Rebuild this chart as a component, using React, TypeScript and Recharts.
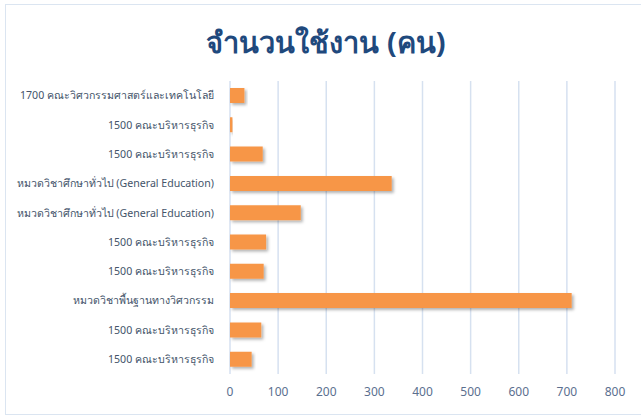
import { BarChart, Bar, XAxis, YAxis, CartesianGrid, Rectangle } from "recharts";

const CATEGORIES = [
  "1700 คณะวิศวกรรมศาสตร์และเทคโนโลยี",
  "1500 คณะบริหารธุรกิจ",
  "1500 คณะบริหารธุรกิจ",
  "หมวดวิชาศึกษาทั่วไป (General Education)",
  "หมวดวิชาศึกษาทั่วไป (General Education)",
  "1500 คณะบริหารธุรกิจ",
  "1500 คณะบริหารธุรกิจ",
  "หมวดวิชาพื้นฐานทางวิศวกรรม",
  "1500 คณะบริหารธุรกิจ",
  "1500 คณะบริหารธุรกิจ",
];
const USERS = [30, 5, 68, 336, 147, 75, 70, 710, 65, 45];
const X_TICKS = [0, 100, 200, 300, 400, 500, 600, 700, 800];

const FONT = "Tahoma, 'Noto Sans', 'DejaVu Sans', sans-serif";

const data = CATEGORIES.map((name, i) => ({ id: i, name, users: USERS[i] }));

// plain svg text so long names stay on one line
const CategoryTick = ({ x, y, payload }: any) => (
  <text x={x} y={y} dy="0.35em" textAnchor="end" fill="#44546a" fontSize={10.6} fontFamily={FONT}>
    {CATEGORIES[payload.value]}
  </text>
);

export default function App() {
  return (
    <div style={{ position: "absolute", left: 0, top: 0, width: 641, height: 418, background: "#fff", overflow: "hidden", fontFamily: FONT }}>
      <div style={{ position: "absolute", left: 5, top: 4, width: 660, height: 411, border: "1.5px solid #dbe5f1", boxSizing: "border-box" }} />
      <div style={{ position: "absolute", left: 0, top: 20, width: 652, textAlign: "center", fontSize: 29, fontWeight: "bold", color: "#1f497d" }}>
        จำนวนใช้งาน (คน)
      </div>
      <BarChart
        width={641}
        height={418}
        data={data}
        layout="vertical"
        margin={{ top: 81, right: 26, bottom: 14, left: 0 }}
        barCategoryGap="24%"
        style={{ position: "absolute", left: 0, top: 0 }}
      >
        <defs>
          <filter id="barShadow" x="-10%" y="-20%" width="130%" height="160%">
            <feDropShadow dx="2" dy="2" stdDeviation="1.5" floodColor="#000" floodOpacity="0.3" />
          </filter>
        </defs>
        <CartesianGrid horizontal={false} stroke="#d6e1f0" strokeWidth={1.5} />
        <XAxis
          type="number"
          domain={[0, 800]}
          ticks={X_TICKS}
          axisLine={false}
          tickLine={false}
          tickSize={0}
          tickMargin={13}
          height={30}
          tick={{ fill: "#5b6f8f", fontSize: 12, fontFamily: FONT }}
        />
        <YAxis
          type="category"
          dataKey="id"
          width={230}
          axisLine={false}
          tickLine={false}
          tickSize={0}
          tickMargin={16}
          tick={<CategoryTick />}
          interval={0}
        />
        <Bar
          dataKey="users"
          fill="#f79646"
          barSize={15}
          isAnimationActive={false}
          shape={(p: any) => <Rectangle {...p} filter="url(#barShadow)" />}
        />
      </BarChart>
    </div>
  );
}
